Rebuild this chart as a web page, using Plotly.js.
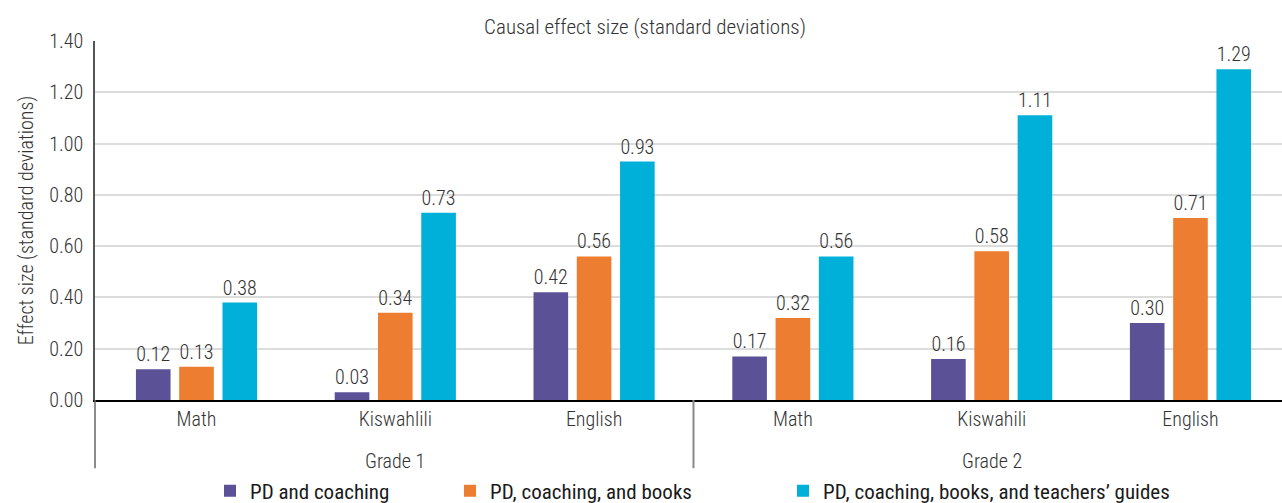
<!DOCTYPE html>
<html><head><meta charset="utf-8">
<script src="https://cdn.plot.ly/plotly-3.0.1.min.js"></script>
<style>html,body{margin:0;padding:0;background:#fff}#chart{width:1282px;height:503px}</style>
</head><body><div id="chart"></div>
<script>
const grades = ["Grade 1","Grade 1","Grade 1","Grade 2","Grade 2","Grade 2"];
const subjects = ["Math","Kiswahlili","English","Math","Kiswahili","English"];
const seriesNames = ["PD and coaching","PD, coaching, and books","PD, coaching, books, and teachers’ guides"];
const pdCoaching = [0.12,0.03,0.42,0.17,0.16,0.30];
const pdBooks = [0.13,0.34,0.56,0.32,0.58,0.71];
const pdGuides = [0.38,0.73,0.93,0.56,1.11,1.29];
const colors = ["#5b5196","#ed7d31","#00b0d8"];
const yTicks = [0,0.2,0.4,0.6,0.8,1.0,1.2,1.4];

const FONT = "Roboto Condensed, Liberation Sans Narrow, Roboto, sans-serif";
const TXT = "#333";
const cats = grades.map((g,i)=>g+" | "+subjects[i]);
const vals = [pdCoaching,pdBooks,pdGuides];
const legendX = [210,450,783];
const legendNames = ["legend","legend2","legend3"];

const traces = vals.map((v,i)=>({
  type:"bar", name:seriesNames[i], x:cats, y:v, legend:legendNames[i],
  marker:{color:colors[i]},
  text:v.map(d=>d.toFixed(2)), textposition:"outside", cliponaxis:false,
  textfont:{size:20,color:TXT,family:FONT,weight:300}
}));

const gradeNames = [...new Set(grades)];
const annotations = gradeNames.map(g=>{
  const idx = grades.map((x,i)=>x===g?i:-1).filter(i=>i>=0);
  return {x:(idx[0]+idx[idx.length-1])/2, xref:"x", y:-0.169, yref:"paper", yanchor:"middle",
    text:g, showarrow:false, font:{size:20,color:TXT,family:FONT,weight:300}};
});
const shapes = [{type:"line",xref:"paper",x0:0,x1:0,yref:"paper",y0:0,y1:-0.19,line:{color:"#666",width:1.5}}];
gradeNames.forEach((g,k)=>{
  if(k===0) return;
  const first = grades.indexOf(g);
  shapes.push({type:"line",xref:"x",x0:first-0.5,x1:first-0.5,yref:"paper",y0:0,y1:-0.19,line:{color:"#888",width:2}});
});

const legendCommon = (px)=>({orientation:"h",xref:"container",x:px/1282,xanchor:"left",yref:"container",y:(503-491)/503,yanchor:"middle",
  font:{size:21,color:"#1a1a1a",family:FONT,weight:400},itemwidth:30,bgcolor:"rgba(0,0,0,0)",borderwidth:0});

Plotly.newPlot("chart",traces,{
  width:1282,height:503,
  margin:{l:95,r:0,t:41,b:103},
  paper_bgcolor:"#fff",plot_bgcolor:"#fff",
  font:{family:FONT,size:20,color:TXT,weight:300},
  title:{text:"Causal effect size (standard deviations)",x:645/1282,xref:"container",xanchor:"center",y:1-27/503,yanchor:"middle",font:{size:21,color:TXT,family:FONT,weight:300}},
  barmode:"group",bargap:0.347,bargroupgap:0.2,
  showlegend:true,
  legend:legendCommon(legendX[0]),
  legend2:legendCommon(legendX[1]),
  legend3:legendCommon(legendX[2]),
  xaxis:{type:"category",tickvals:cats,ticktext:subjects,range:[-0.5106,5.4604],showline:true,linecolor:"#000",linewidth:1.5,ticks:"",showgrid:false,ticklabelstandoff:0,
    tickfont:{size:20,color:TXT,family:FONT,weight:300}},
  yaxis:{range:[0,1.4],tickvals:yTicks,tickformat:".2f",showgrid:true,gridcolor:"#dcdcdc",gridwidth:1.5,showline:true,linecolor:"#555",linewidth:1.5,zeroline:false,ticks:"",ticklabelstandoff:6,
    title:{text:"Effect size (standard deviations)",font:{size:20,color:TXT,family:FONT,weight:300},standoff:10},tickfont:{size:20,color:TXT,family:FONT,weight:300}},
  annotations:annotations, shapes:shapes
},{displayModeBar:false});
</script></body></html>
